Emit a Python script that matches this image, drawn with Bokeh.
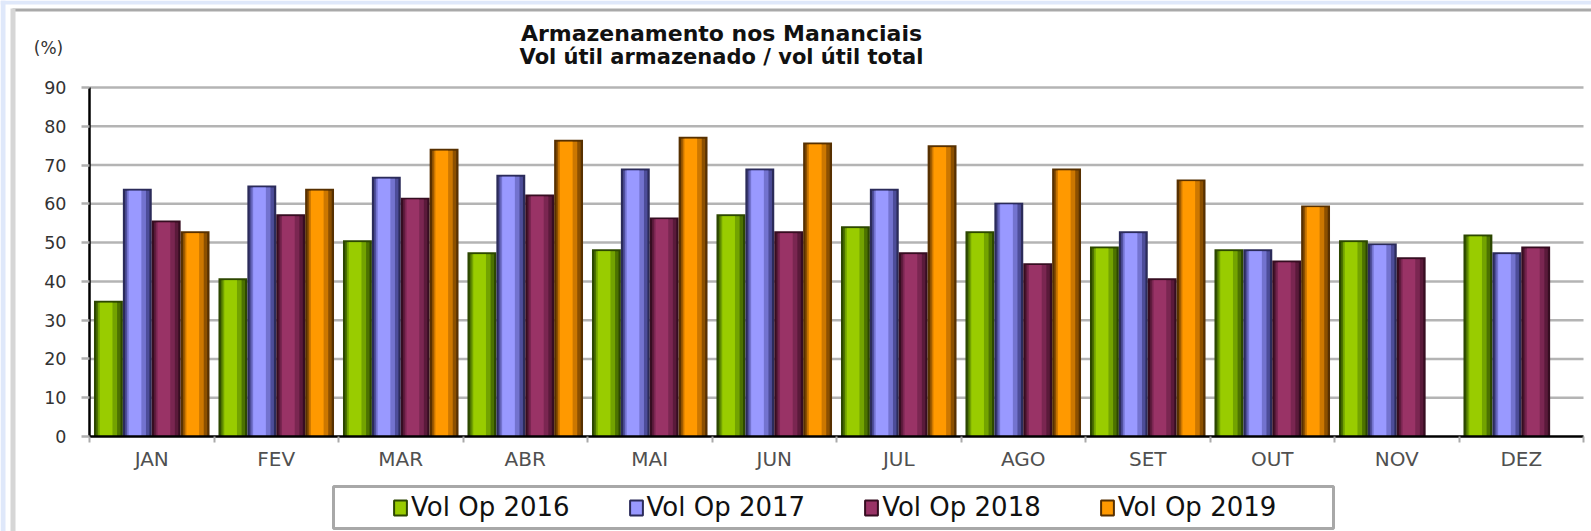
import numpy as np
from bokeh.plotting import figure
from bokeh.models import (Range1d, FixedTicker, Legend, LegendItem, Label,
                          BoxAnnotation, ColumnDataSource, LinearAxis)
from bokeh.embed import file_html
from bokeh.resources import INLINE

# ---------------- data ----------------
months = ["JAN", "FEV", "MAR", "ABR", "MAI", "JUN",
          "JUL", "AGO", "SET", "OUT", "NOV", "DEZ"]
nan = float("nan")
vol_2016 = [35.0, 40.8, 50.6, 47.5, 48.3, 57.3, 54.2, 52.9, 49.0, 48.3, 50.6, 52.1]
vol_2017 = [63.9, 64.7, 67.0, 67.5, 69.1, 69.1, 63.9, 60.3, 52.9, 48.3, 49.8, 47.5]
vol_2018 = [55.7, 57.3, 61.6, 62.4, 56.5, 52.9, 47.5, 44.7, 40.8, 45.4, 46.2, 49.0]
vol_2019 = [52.9, 63.9, 74.2, 76.5, 77.3, 75.8, 75.1, 69.1, 66.3, 59.6, nan, nan]
series_names = ["Vol Op 2016", "Vol Op 2017", "Vol Op 2018", "Vol Op 2019"]
y_ticks = [0, 10, 20, 30, 40, 50, 60, 70, 80, 90]
title_line1 = "Armazenamento nos Mananciais"
title_line2 = "Vol útil armazenado / vol útil total"
y_unit = "(%)"

series_values = [vol_2016, vol_2017, vol_2018, vol_2019]

# ---------------- geometry / styles ----------------
W, H = 1591, 531
plot_left_px, plot_right_px = 89, 1583      # y axis / end of x axis
zero_px, ninety_px = 436, 87                # canvas rows of 0 % and 90 %
n = len(months)
ux = (plot_right_px - plot_left_px) / n     # px per month
uy = (zero_px - ninety_px) / y_ticks[-1]    # px per percent

palettes = [
    dict(edge="#2c4700", dark="#4c7200", mid="#73a300", bright="#99cc00"),
    dict(edge="#2b2b5a", dark="#4d4d99", mid="#7373cf", bright="#9999ff"),
    dict(edge="#360d21", dark="#5a1a3a", mid="#7a2651", bright="#993366"),
    dict(edge="#573000", dark="#8c5000", mid="#cc7700", bright="#ff9900"),
]
bar_w = 0.232
offsets = [-0.348, -0.116, 0.116, 0.348]
layers = [  # (colour key, width fraction, shift fraction, cap in data units)
    ("edge", 1.00, 0.00, 0.0),
    ("dark", 0.84, 0.00, 0.5),
    ("mid", 0.66, -0.03, 0.5),
    ("bright", 0.44, -0.08, 0.5),
]

FONT = "DejaVu Sans"

p = figure(width=W, height=H, output_backend="svg", toolbar_location=None,
           x_range=Range1d(-plot_left_px / ux, (W - plot_left_px) / ux),
           y_range=Range1d(-(H - zero_px) / uy, zero_px / uy),
           min_border=0, tools="", x_axis_location=None, y_axis_location=None)
p.title = None
p.outline_line_color = None
p.background_fill_color = "white"
p.border_fill_color = "white"
p.xgrid.visible = False
p.ygrid.visible = False


def box(left, right, top, bottom, **kw):
    """box in canvas pixels (top-left origin)"""
    b = BoxAnnotation(left=left, right=right, top=H - top, bottom=H - bottom,
                      left_units="screen", right_units="screen",
                      top_units="screen", bottom_units="screen",
                      fill_alpha=1.0, line_alpha=1.0, **kw)
    p.add_layout(b)


# outer decoration (sheet frame)
box(0, W, 0, 4, fill_color="#dfe8fa", line_color=None)
box(0, 5, 0, H, fill_color="#dfe8fa", line_color=None)
box(12, W, 8, 11, fill_color="#a9a9a9", line_color=None)
box(10, 15, 8, H, fill_color="#d6d6d6", line_color=None)

# grid lines (drawn from the tick values)
gy = np.array(y_ticks[1:], dtype=float)
p.segment(x0=np.zeros_like(gy), x1=np.full_like(gy, n), y0=gy, y1=gy,
          line_color="#b4b4b4", line_width=2.5)

# axes at fixed locations
idx = np.arange(n)
xaxis = LinearAxis(fixed_location=0)
xaxis.bounds = (0, n)
xaxis.ticker = FixedTicker(ticks=list(idx + 0.5), minor_ticks=list(range(n + 1)))
xaxis.major_label_overrides = {float(i + 0.5): m for i, m in zip(idx, months)}
xaxis.axis_line_color = "black"
xaxis.axis_line_width = 2.5
xaxis.major_tick_line_color = None
xaxis.major_tick_in = 0
xaxis.major_tick_out = 0
xaxis.minor_tick_line_color = "#aaaaaa"
xaxis.minor_tick_line_width = 2
xaxis.minor_tick_in = 0
xaxis.minor_tick_out = 6
xaxis.major_label_text_font = FONT
xaxis.major_label_text_font_size = "20px"
xaxis.major_label_text_color = "#505050"
xaxis.major_label_standoff = 4
p.add_layout(xaxis, "below")

yaxis = LinearAxis(fixed_location=0)
yaxis.ticker = FixedTicker(ticks=y_ticks, minor_ticks=[])
yaxis.bounds = (y_ticks[0], y_ticks[-1])
yaxis.axis_line_color = "black"
yaxis.axis_line_width = 2.5
yaxis.major_tick_line_color = "#b0b0b0"
yaxis.major_tick_line_width = 2.5
yaxis.major_tick_in = 0
yaxis.major_tick_out = 8
yaxis.minor_tick_line_color = None
yaxis.major_label_text_font = FONT
yaxis.major_label_text_font_size = "17.5px"
yaxis.major_label_text_color = "#333333"
yaxis.major_label_standoff = 15
p.add_layout(yaxis, "left")

# bars: layered to give the cylinder-like shading
legend_renderers = []
for vals, off, pal in zip(series_values, offsets, palettes):
    v = np.array(vals, dtype=float)
    for key, wf, sf, cap in layers:
        src = ColumnDataSource(dict(x=idx + 0.5 + off + sf * bar_w, top=v - cap))
        p.vbar(x="x", top="top", bottom=0, width=bar_w * wf, source=src,
               fill_color=pal[key], line_color=None)
    # legend swatch (not drawn in the plot area: NaN position)
    r = p.vbar(x=[nan], top=[nan], width=bar_w, fill_color=pal["bright"],
               line_color=pal["edge"], line_width=2)
    legend_renderers.append(r)

# legend box and legend
box(333, 1333, 486, 528, fill_color="white", line_color="#a8a8a8", line_width=3)
legend = Legend(items=[LegendItem(label=s, renderers=[r])
                       for s, r in zip(series_names, legend_renderers)],
                orientation="horizontal", location=(392, 9),
                padding=4, spacing=58, label_standoff=3,
                glyph_width=16, glyph_height=19,
                label_text_font=FONT, label_text_font_size="26px",
                label_text_color="#111111",
                border_line_color=None, background_fill_alpha=0.0)
p.add_layout(legend, "center")

# titles
for txt, cy, fs in [(title_line1, 33, "22px"), (title_line2, 56.5, "21px")]:
    p.add_layout(Label(x=721, y=H - cy, x_units="screen", y_units="screen", text=txt,
                       text_align="center", text_baseline="middle", text_font=FONT,
                       text_font_size=fs, text_font_style="bold",
                       text_color="#111111"))
p.add_layout(Label(x=48, y=H - 47, x_units="screen", y_units="screen", text=y_unit,
                   text_align="center", text_baseline="middle", text_font=FONT,
                   text_font_size="17px", text_color="#333333"))

open("out.html", "w").write(file_html(p, INLINE))
